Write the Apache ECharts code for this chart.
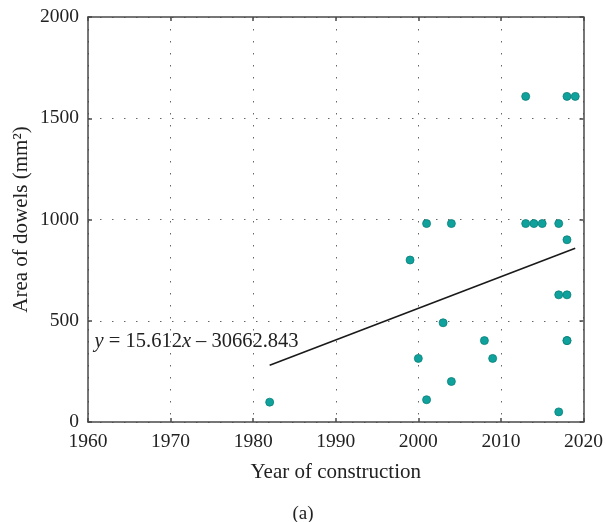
<!DOCTYPE html>
<html>
<head>
<meta charset="UTF-8">
<title></title>
<style>
	* { margin: 0; padding: 0; }
	html, body { width: 606px; height: 522px; background: #fff; }
	#main { width: 606px; height: 522px; }
</style>
<script src="https://cdn.jsdelivr.net/npm/echarts@6/dist/echarts.min.js"></script>
</head>
<body>
<div id="main"></div>
<script>
// year of construction / area of dowels (mm2)
var years = [1982, 1999, 2000, 2001, 2001, 2003, 2004, 2004, 2008, 2009, 2013, 2013, 2014, 2015,
	2017, 2017, 2017, 2018, 2018, 2018, 2018, 2018, 2019];
var areas = [98, 800, 314, 980, 110, 490, 980, 200, 402, 314, 1608, 980, 980, 980,
	980, 628, 50, 1608, 900, 628, 402, 402, 1608];
// regression given on the figure
var slope = 15.612;
var intercept = -30662.843;
var fitYears = [1982, 2019];

var points = years.map(function (y, i) { return [y, areas[i]]; });
var fitLine = fitYears.map(function (y) { return [y, slope * y + intercept]; });

var font = 'Liberation Serif';
var frame = '#4a4a4a';
var grid = { left: 88, right: 20, top: 17, bottom: 100 };

function plain(v) { return String(v); }

function axisX(pos, show) {
	return {
		type: 'value', position: pos, min: 1960, max: 2020, interval: 10,
		name: show ? 'Year of construction' : '', nameLocation: 'middle', nameGap: 40,
		nameTextStyle: { fontFamily: font, fontSize: 21, color: '#222' },
		axisLine: { show: true, onZero: false, lineStyle: { color: frame, width: 1.5 } },
		axisTick: { show: true, inside: true, length: 4, lineStyle: { color: frame, width: 1.5 } },
		axisLabel: { show: show, formatter: plain, fontFamily: font, fontSize: 19.5, color: '#222', margin: 10 },
		splitLine: { show: show, lineStyle: { color: '#666', width: 1, type: [1.5, 10.5] } }
	};
}
function axisY(pos, show) {
	return {
		type: 'value', position: pos, min: 0, max: 2000, interval: 500,
		name: show ? 'Area of dowels (mm²)' : '', nameLocation: 'middle', nameGap: 56,
		nameMoveOverlap: false,
		nameTextStyle: { fontFamily: font, fontSize: 21, color: '#222' },
		axisLine: { show: true, lineStyle: { color: frame, width: 1.5 } },
		axisTick: { show: true, inside: true, length: 4, lineStyle: { color: frame, width: 1.5 } },
		axisLabel: { show: show, formatter: plain, fontFamily: font, fontSize: 19.5, color: '#222', margin: 9 },
		splitLine: { show: show, lineStyle: { color: '#666', width: 1, type: [1.5, 10.5] } }
	};
}

var myChart = echarts.init(document.getElementById('main'));
var option = {
	animation: false,
	grid: grid,
	xAxis: [axisX('bottom', true), axisX('top', false)],
	yAxis: [axisY('left', true), axisY('right', false)],
	title: {
		text: '(a)', left: 'center', top: 500,
		textStyle: { fontFamily: font, fontSize: 19, fontWeight: 'normal', color: '#222' }
	},
	series: [
		{
			type: 'line', data: fitLine, symbol: 'none', z: 3,
			lineStyle: { color: '#1a1a1a', width: 1.6 }
		},
		{
			type: 'scatter', data: points, symbolSize: 8, z: 4,
			itemStyle: { color: '#0fa29c', borderColor: '#0a7f7a', borderWidth: 0.8, opacity: 1 }
		}
	]
};
myChart.setOption(option);

var pos = myChart.convertToPixel({ xAxisIndex: 0, yAxisIndex: 0 }, [1960.8, 395]);
myChart.setOption({
	graphic: [{
		type: 'text', x: pos[0], y: pos[1], z: 10,
		style: {
			text: '{i|y} = 15.612{i|x} – 30662.843',
			fontFamily: font, fontSize: 20.5, fill: '#222', verticalAlign: 'middle', align: 'left',
			rich: { i: { fontFamily: font, fontSize: 20.5, fontStyle: 'italic', fill: '#222' } }
		}
	}]
});
</script>
</body>
</html>
